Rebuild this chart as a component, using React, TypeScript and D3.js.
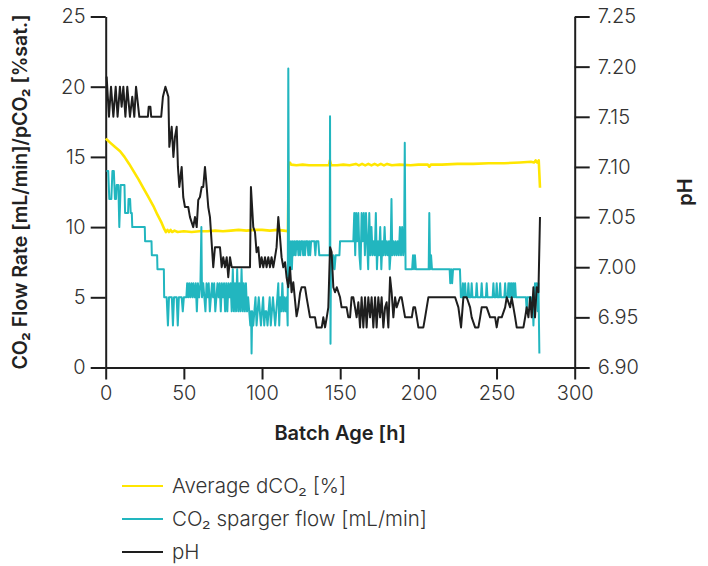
import React, { useEffect, useRef } from "react";
import * as d3 from "d3";

type Pt = [number, number];

const hourTicks = [0, 50, 100, 150, 200, 250, 300];
const flowTicks = [0, 5, 10, 15, 20, 25];
const phTicks = [6.9, 6.95, 7.0, 7.05, 7.1, 7.15, 7.2, 7.25];

const seriesNames = ["Average dCO₂ [%]", "CO₂ sparger flow [mL/min]", "pH"];

// [batch age h, average dCO2 %]
const dco2: Pt[] = [
  [0, 16.3], [1, 16.2], [3, 16.0], [6, 15.7], [9.2, 15.4], [12, 15.0], [15, 14.5], [17.7, 14.0],
  [21, 13.4], [24, 12.8], [27, 12.2], [30.5, 11.5], [33, 10.9], [35.8, 10.3], [37.5, 9.85],
  [38.5, 9.65], [39.5, 9.8], [40.5, 9.65], [41.5, 9.8], [42.5, 9.65], [44, 9.75], [46, 9.65],
  [50, 9.7], [55, 9.65], [60, 9.7], [65, 9.7], [70, 9.75], [75, 9.7], [80, 9.75], [85, 9.8],
  [90, 9.75], [95, 9.8], [100, 9.8], [105, 9.75], [110, 9.8], [114, 9.75], [116.6, 9.7],
  [117, 14.45], [117.8, 14.6], [118.6, 14.45], [122, 14.4], [126, 14.45], [130, 14.4], [134, 14.4],
  [138, 14.4], [142.8, 14.4], [143.4, 14.75], [144.2, 14.4], [148, 14.4], [152, 14.45], [156, 14.4],
  [160, 14.5], [162, 14.4], [164, 14.5], [166, 14.4], [168, 14.5], [170, 14.4], [172, 14.5],
  [174, 14.4], [176, 14.5], [178, 14.4], [180, 14.5], [183, 14.4], [188, 14.45], [195, 14.4],
  [200, 14.45], [206, 14.45], [207, 14.3], [208, 14.45], [215, 14.45], [225, 14.5], [235, 14.5],
  [245, 14.55], [255, 14.55], [265, 14.6], [272, 14.65], [274, 14.6], [275, 14.75], [276, 14.6],
  [277, 14.75], [277.8, 12.8],
];

// [batch age h, CO2 sparger flow mL/min]
const spargerFlow: Pt[] = [
  [0.5, 14], [1.6, 14], [2.3, 12], [3.6, 12], [4.3, 14], [5.2, 14], [5.9, 12], [6.6, 12], [7.0, 13],
  [8.1, 13], [8.7, 10], [9.6, 13], [12.0, 13], [12.4, 11], [14.3, 11], [14.6, 12], [15.6, 12],
  [16.0, 11], [16.7, 11], [17.0, 10], [25.0, 10], [25.2, 9], [29.3, 9], [29.5, 8], [32.9, 8],
  [33.1, 7], [37.2, 7], [37.4, 5], [39.0, 5], [39.8, 3], [40.5, 5], [42.3, 5], [43.0, 3], [43.7, 5],
  [45.4, 5], [46.1, 3], [46.8, 5], [48.6, 5], [49.3, 4], [50.0, 5], [51.6, 5], [52.1, 6], [52.7, 5],
  [53.4, 6], [54.0, 5], [54.8, 6], [55.4, 5], [56.1, 6], [56.8, 5], [57.6, 6], [58.3, 4], [59.0, 6],
  [59.8, 5], [60.6, 6], [61.2, 10], [61.6, 5], [62.4, 6], [63.1, 5], [63.8, 4], [64.5, 6], [65.2, 5],
  [65.9, 6], [66.6, 4], [67.3, 5], [68.0, 6], [68.7, 5], [69.4, 6], [70.1, 4], [70.8, 5], [71.5, 6],
  [72.2, 5], [72.9, 6], [73.6, 4], [74.3, 6], [75.0, 5], [75.7, 6], [76.4, 4], [77.1, 6], [77.8, 4],
  [78.5, 6], [79.2, 5], [79.9, 6], [80.6, 4], [81.3, 7], [82.0, 4], [82.7, 6], [83.4, 4], [84.1, 7],
  [84.8, 4], [85.5, 6], [86.2, 4], [86.9, 7], [87.6, 4], [88.3, 6], [89.0, 4], [89.7, 6], [90.4, 4],
  [91.1, 5], [91.8, 4], [92.5, 3], [93.0, 4], [93.3, 1], [93.7, 4], [94.4, 3], [95.1, 4], [95.8, 5],
  [96.5, 3], [97.2, 4], [97.9, 5], [98.6, 4], [99.3, 3], [100.0, 4], [100.7, 5], [101.4, 3],
  [102.1, 4], [102.8, 4], [103.5, 3], [104.2, 4], [104.9, 5], [105.6, 3], [106.3, 4], [107.0, 5],
  [107.7, 4], [108.4, 3], [109.1, 4], [109.8, 5], [110.4, 6], [111.0, 3], [111.6, 5], [112.3, 4],
  [113.0, 6], [113.7, 4], [114.4, 5], [115.1, 4], [115.8, 5], [116.4, 3], [116.8, 21.3], [117.3, 6],
  [117.9, 7], [118.5, 9], [119.1, 7], [119.7, 9], [120.3, 8], [120.9, 9], [121.5, 8], [122.1, 9],
  [122.7, 9], [123.3, 8], [123.9, 9], [124.5, 8], [125.1, 9], [125.7, 9], [126.3, 8], [126.9, 9],
  [127.5, 8], [128.1, 9], [129.0, 9], [129.6, 8], [130.2, 9], [130.8, 8], [131.4, 9], [133.5, 9],
  [134.1, 8], [134.7, 9], [136.0, 9], [136.6, 8], [143.3, 8], [143.5, 17.9], [143.8, 1.7],
  [144.1, 8], [145.0, 7], [145.6, 8], [146.4, 7], [147.1, 8], [149.5, 8], [149.9, 9], [158.4, 9],
  [159.0, 11], [159.6, 8], [160.2, 11], [160.9, 9], [161.6, 11], [162.3, 8], [163.0, 7], [163.7, 11],
  [164.4, 9], [165.1, 11], [165.8, 8], [166.5, 11], [167.2, 9], [167.9, 7], [168.6, 11], [169.3, 8],
  [170.0, 10], [170.7, 8], [171.4, 9], [172.1, 8], [172.8, 11], [173.5, 7], [174.2, 9], [174.9, 8],
  [175.6, 10], [176.3, 7], [177.0, 9], [177.7, 8], [178.4, 10], [179.1, 8], [179.8, 9], [180.5, 8],
  [181.2, 9], [181.6, 7], [182.2, 8], [182.8, 12], [183.3, 8], [184.0, 9], [184.7, 8], [185.4, 9],
  [186.1, 8], [186.8, 9], [187.5, 8], [188.2, 10], [188.9, 8], [189.6, 10], [190.3, 8], [190.9, 9],
  [191.3, 16], [191.8, 7], [196.0, 7], [196.6, 8], [197.2, 7], [197.8, 8], [198.4, 7], [206.6, 7],
  [207.0, 11], [207.5, 7], [208.1, 8], [208.7, 7], [220.0, 7], [220.4, 6], [221.0, 7], [221.6, 6],
  [222.2, 7], [226.6, 7], [227.2, 5], [228.0, 5], [228.5, 6], [229.0, 5], [229.9, 6], [230.4, 5],
  [231.5, 5], [232.0, 6], [232.5, 5], [233.6, 5], [234.1, 6], [234.6, 5], [236.8, 5], [237.3, 6],
  [237.8, 5], [240.0, 5], [240.5, 6], [241.0, 5], [243.2, 5], [243.7, 6], [244.2, 5], [247.5, 5],
  [248.0, 6], [248.5, 5], [249.6, 5], [250.1, 6], [250.6, 5], [251.8, 5], [252.3, 6], [252.8, 5],
  [255.0, 5], [255.5, 6], [256.0, 5], [257.1, 5], [257.6, 6], [258.1, 5], [258.6, 6], [259.1, 5],
  [259.7, 6], [260.2, 5], [260.8, 6], [261.3, 5], [261.9, 6], [262.4, 5], [268.8, 5], [269.3, 4],
  [269.8, 5], [272.0, 5], [272.5, 4.5], [273.0, 5], [273.6, 3], [274.2, 5], [274.6, 6], [275.2, 5],
  [275.7, 6], [276.3, 4], [276.8, 6], [277.4, 1],
];

// [batch age h, pH]
const phValues: Pt[] = [
  [0.6, 7.19], [2.1, 7.15], [3.4, 7.18], [4.9, 7.15], [6.4, 7.18], [7.6, 7.15], [9.1, 7.18],
  [10.2, 7.16], [11.3, 7.18], [12.6, 7.15], [13.8, 7.18], [15.5, 7.15], [17.0, 7.17], [18.3, 7.15],
  [19.4, 7.18], [21.5, 7.15], [27.0, 7.15], [27.5, 7.16], [28.6, 7.16], [29.1, 7.15], [35.5, 7.15],
  [36.6, 7.17], [38.2, 7.18], [40.1, 7.17], [40.7, 7.12], [42.2, 7.14], [43.3, 7.11], [44.3, 7.13],
  [45.4, 7.14], [46.2, 7.1], [47.1, 7.08], [48.6, 7.1], [49.6, 7.07], [50.7, 7.06], [52.8, 7.06],
  [53.9, 7.05], [56.0, 7.04], [57.1, 7.05], [58.2, 7.04], [59.2, 7.067], [60.3, 7.07], [61.4, 7.08],
  [62.4, 7.08], [63.5, 7.1], [64.6, 7.08], [65.6, 7.06], [66.7, 7.05], [68.8, 7.0], [69.9, 7.02],
  [73.1, 7.02], [74.2, 7.0], [75.2, 7.01], [76.3, 7.0], [77.4, 7.01], [78.4, 6.99], [79.5, 7.01],
  [80.6, 7.0], [92.3, 7.0], [92.9, 7.08], [94.4, 7.04], [95.5, 7.035], [96.5, 7.015], [97.6, 7.02],
  [98.7, 7.0], [99.7, 7.01], [100.8, 7.0], [101.9, 7.01], [102.9, 7.0], [104.0, 7.01], [105.1, 7.0],
  [106.1, 7.01], [107.2, 7.0], [108.3, 7.01], [109.3, 7.02], [110.4, 7.05], [111.5, 7.03],
  [112.5, 7.01], [113.6, 7.0], [114.7, 7.005], [115.7, 6.99], [116.8, 6.98], [117.9, 7.0],
  [118.9, 6.975], [120.0, 6.985], [121.1, 6.967], [122.1, 6.951], [123.2, 6.96], [124.3, 6.974],
  [125.3, 6.98], [127.5, 6.98], [128.5, 6.97], [129.6, 6.96], [130.7, 6.95], [133.9, 6.95],
  [134.9, 6.94], [138.2, 6.94], [139.2, 6.95], [140.3, 6.94], [141.4, 6.95], [142.4, 6.96],
  [143.5, 7.02], [144.5, 7.015], [145.6, 6.98], [146.7, 6.975], [147.8, 6.98], [149.9, 6.97],
  [150.9, 6.96], [154.1, 6.96], [155.2, 6.95], [156.3, 6.95], [157.3, 6.97], [158.4, 6.97],
  [160.5, 6.95], [161.6, 6.965], [162.7, 6.94], [163.7, 6.97], [164.8, 6.94], [165.9, 6.97],
  [166.9, 6.94], [168.0, 6.97], [169.1, 6.95], [170.1, 6.97], [171.2, 6.94], [172.3, 6.97],
  [173.3, 6.94], [174.4, 6.97], [175.5, 6.95], [176.5, 6.97], [177.6, 6.94], [178.7, 6.96],
  [179.7, 6.965], [180.8, 6.94], [181.9, 6.99], [182.9, 6.975], [184.0, 6.95], [185.1, 6.97],
  [186.1, 6.96], [188.3, 6.97], [189.3, 6.97], [190.4, 6.96], [191.5, 6.95], [195.8, 6.95],
  [196.8, 6.96], [197.9, 6.96], [199.0, 6.95], [200.0, 6.94], [203.2, 6.94], [204.3, 6.95],
  [206.4, 6.97], [223.5, 6.97], [225.6, 6.96], [227.3, 6.94], [228.8, 6.97], [230.9, 6.97],
  [233.1, 6.96], [234.1, 6.95], [236.3, 6.94], [238.4, 6.94], [239.5, 6.95], [240.5, 6.96],
  [243.7, 6.96], [245.9, 6.95], [249.1, 6.95], [250.1, 6.94], [251.2, 6.95], [253.3, 6.95],
  [255.5, 6.96], [256.5, 6.97], [258.7, 6.96], [259.7, 6.97], [260.8, 6.96], [261.9, 6.95],
  [262.9, 6.94], [267.2, 6.94], [268.3, 6.95], [269.3, 6.96], [270.4, 6.95], [271.5, 6.97],
  [272.5, 6.95], [273.6, 6.98], [274.6, 6.95], [275.7, 6.98], [276.8, 6.975], [277.8, 7.05],
];

const YELLOW = "#FFE600";
const TEAL = "#22B6BF";
const DARK = "#1e1e1e";
const FONT = "Inter, 'Open Sans', sans-serif";

const App = () => {
  const svgRef = useRef<SVGSVGElement>(null);

  useEffect(() => {
    const W = 708;
    const H = 566;
    const margin = { top: 16.5, right: 133.3, bottom: 198.5, left: 105.7 };
    const width = W - margin.left - margin.right;
    const height = H - margin.top - margin.bottom;

    const root = d3.select(svgRef.current);
    root.selectAll("*").remove();
    root.attr("width", W).attr("height", H);

    const svg = root.append("g").attr("transform", `translate(${margin.left},${margin.top})`);

    const x = d3.scaleLinear().domain([0, 300]).range([0, width]);
    const yL = d3.scaleLinear().domain([0, 25]).range([height, 0]);
    const yR = d3.scaleLinear().domain([6.9, 7.25]).range([height, 0]);

    const styleAxis = (g: any) => {
      g.select(".domain").attr("stroke", DARK).attr("stroke-width", 2);
      g.selectAll(".tick line").attr("stroke", DARK).attr("stroke-width", 2);
      g.selectAll(".tick text")
        .attr("fill", "#333")
        .style("font-family", FONT)
        .style("font-size", "20px")
        .style("font-weight", 300);
    };

    svg
      .append("g")
      .attr("transform", `translate(0,${height})`)
      .call(d3.axisBottom(x).tickValues(hourTicks).tickSize(12).tickSizeOuter(0).tickPadding(6))
      .call(styleAxis);

    svg
      .append("g")
      .call(d3.axisLeft(yL).tickValues(flowTicks).tickSize(15).tickSizeOuter(0).tickPadding(5))
      .call(styleAxis);

    svg
      .append("g")
      .attr("transform", `translate(${width},0)`)
      .call(
        d3.axisRight(yR).tickValues(phTicks).tickSize(15).tickSizeOuter(0).tickPadding(8)
          .tickFormat(d3.format(".2f"))
      )
      .call(styleAxis);

    const flowLine = d3.line<Pt>().x((d) => x(d[0])).y((d) => yL(d[1]));
    const phLine = d3.line<Pt>().x((d) => x(d[0])).y((d) => yR(d[1]));

    svg.append("path").datum(dco2).attr("fill", "none").attr("stroke", YELLOW)
      .attr("stroke-width", 2.6).attr("stroke-linejoin", "round").attr("d", flowLine);
    svg.append("path").datum(spargerFlow).attr("fill", "none").attr("stroke", TEAL)
      .attr("stroke-width", 2).attr("stroke-linejoin", "round").attr("d", flowLine);
    svg.append("path").datum(phValues).attr("fill", "none").attr("stroke", DARK)
      .attr("stroke-width", 2).attr("stroke-linejoin", "round").attr("d", phLine);

    // axis titles
    svg.append("text")
      .attr("x", width / 2).attr("y", height + 72)
      .attr("text-anchor", "middle").attr("fill", "#222")
      .style("font-family", FONT).style("font-size", "20px").style("font-weight", 600)
      .text("Batch Age [h]");

    svg.append("text")
      .attr("transform", `translate(${-margin.left + 26.5},${height / 2}) rotate(-90)`)
      .attr("text-anchor", "middle").attr("fill", "#222")
      .style("font-family", FONT).style("font-size", "19.5px").style("font-weight", 600)
      .text("CO₂ Flow Rate [mL/min]/pCO₂ [%sat.]");

    svg.append("text")
      .attr("transform", `translate(${width + 117},${height / 2}) rotate(-90)`)
      .attr("text-anchor", "middle").attr("fill", "#222")
      .style("font-family", FONT).style("font-size", "20px").style("font-weight", 600)
      .text("pH");

    // legend
    const legendColors = [YELLOW, TEAL, DARK];
    const legend = root.append("g").attr("transform", "translate(122,486)");
    seriesNames.forEach((name, i) => {
      const g = legend.append("g").attr("transform", `translate(0,${i * 33})`);
      g.append("line").attr("x1", 0).attr("x2", 41).attr("y1", 0).attr("y2", 0)
        .attr("stroke", legendColors[i]).attr("stroke-width", 2);
      g.append("text").attr("x", 50).attr("y", 0).attr("dy", "0.35em")
        .attr("fill", "#333")
        .style("font-family", FONT).style("font-size", "20.5px").style("font-weight", 300)
        .text(name);
    });
  }, []);

  return (
    <div>
      <svg ref={svgRef} style={{ position: "absolute", left: 0, top: 0, background: "#fff" }}></svg>
    </div>
  );
};

export default App;
